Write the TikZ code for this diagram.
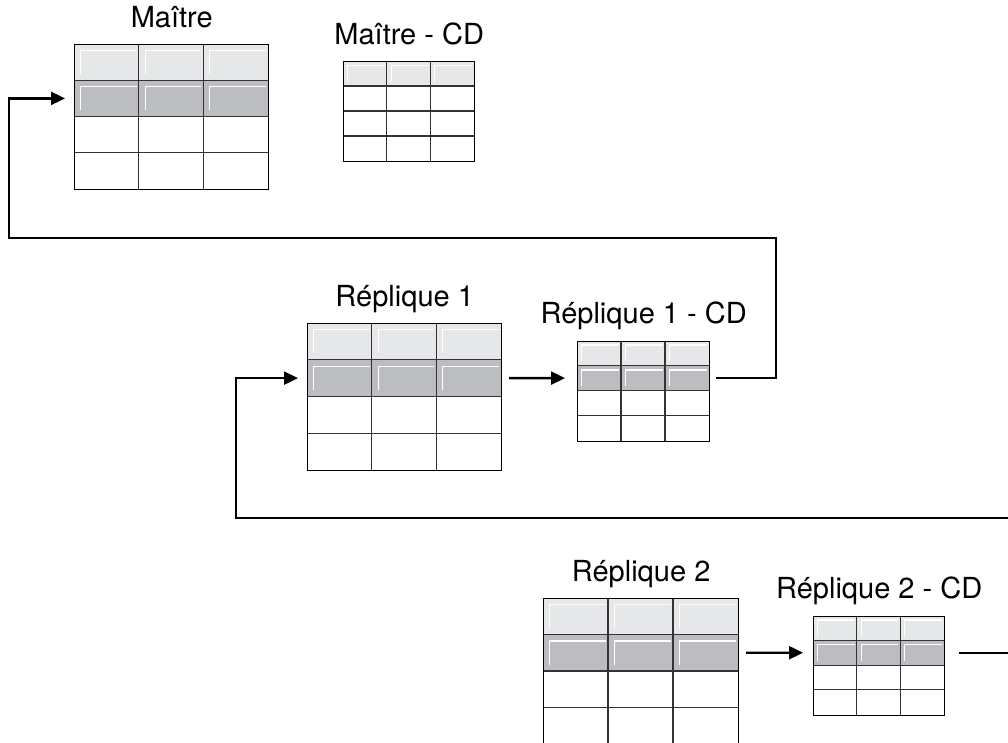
\documentclass[tikz,border=0pt]{standalone}
\usepackage{fontspec}
\setmainfont{TeX Gyre Heros}
\usepackage{tikz}
\usetikzlibrary{arrows.meta, positioning}
\definecolor{lightrow}{HTML}{E6E7E8}
\definecolor{darkrow}{HTML}{BCBDC0}
\tikzset{
  tblframe/.style = {draw=black, line width=1.3pt, inner sep=0pt,
    anchor=north west},
  cellline/.style = {draw=black!80, line width=1.1pt},
  glint/.style = {draw=white, line width=1.1pt},
  title/.style = {anchor=base, font=\fontsize{29}{33}\selectfont},
  flow/.style = {draw=black, line width=2.4pt}
}
% #1 name, #2 title, #3 x, #4 y, #5 cell width, #6 cell height, #7 grey rows
\newcommand{\dbtable}[7]{%
  \begin{scope}[shift={(#3,#4)}]
    \fill[lightrow] (0,0) rectangle ({3*#5},#6);
    \ifnum#7>1 \fill[darkrow] (0,#6) rectangle ({3*#5},{2*#6}); \fi
    \foreach \row in {1,...,#7}
      \foreach \col in {0,1,2}
        \draw[glint] ({\col*#5+0.1*#5},{\row*#6-0.1*#5})
          -- ({\col*#5+0.1*#5},{(\row-1)*#6+0.1*#5})
          -- ({(\col+1)*#5-2},{(\row-1)*#6+0.1*#5});
    \foreach \k in {1,2,3}
      \draw[cellline] (0,{\k*#6}) -- ({3*#5},{\k*#6});
    \foreach \k in {1,2}
      \draw[cellline] ({\k*#5},0) -- ({\k*#5},{4*#6});
    \node[tblframe, minimum width={3*#5}, minimum height={4*#6}] (#1) at (0,0) {};
    \coordinate (#1-in) at (0,{1.5*#6});
    \coordinate (#1-out) at ({3*#5},{1.5*#6});
  \end{scope}
  \node[title] (#1-title) at ([yshift=17pt]#1.north) {#2};
}

\begin{document}
\begin{tikzpicture}[x=1pt, y=-1pt, >={Triangle[length=14pt,width=13pt]}]
\clip (0,0) rectangle (1008,742);

% tables
\dbtable{m}{Maître}{74}{44}{64.7}{36.25}{2}
\dbtable{mcd}{Maître - CD}{343}{61}{43.7}{25}{1}
\dbtable{r1}{Réplique 1}{307}{323}{64.7}{36.75}{2}
\dbtable{r1cd}{Réplique 1 - CD}{577}{340.6}{44}{25}{2}
\dbtable{r2}{Réplique 2}{543}{598}{65}{36.5}{2}
\dbtable{r2cd}{Réplique 2 - CD}{813}{615.6}{43.7}{24.75}{2}

% corners of the loops
\coordinate (loopa) at (776,238);
\coordinate (loopb) at (9,238);
\coordinate (loopc) at (1012,518);
\coordinate (loopd) at (236,518);
\coordinate (exit) at (1012,0);

\draw[flow, ->] ([xshift=7pt]r1cd-out) -| (loopa) -- (loopb)
  |- ([xshift=-9pt]m-in);
\draw[flow, ->] (loopc) -- (loopd) |- ([xshift=-9pt]r1-in);
\draw[flow, ->] ([xshift=8pt]r1-out) -- ([xshift=-12pt]r1cd-in);
\draw[flow, ->] ([xshift=8pt]r2-out) -- ([xshift=-10pt]r2cd-in);
\draw[flow] ([xshift=15pt]r2cd-out) -- (r2cd-out -| exit);
\end{tikzpicture}
\end{document}
